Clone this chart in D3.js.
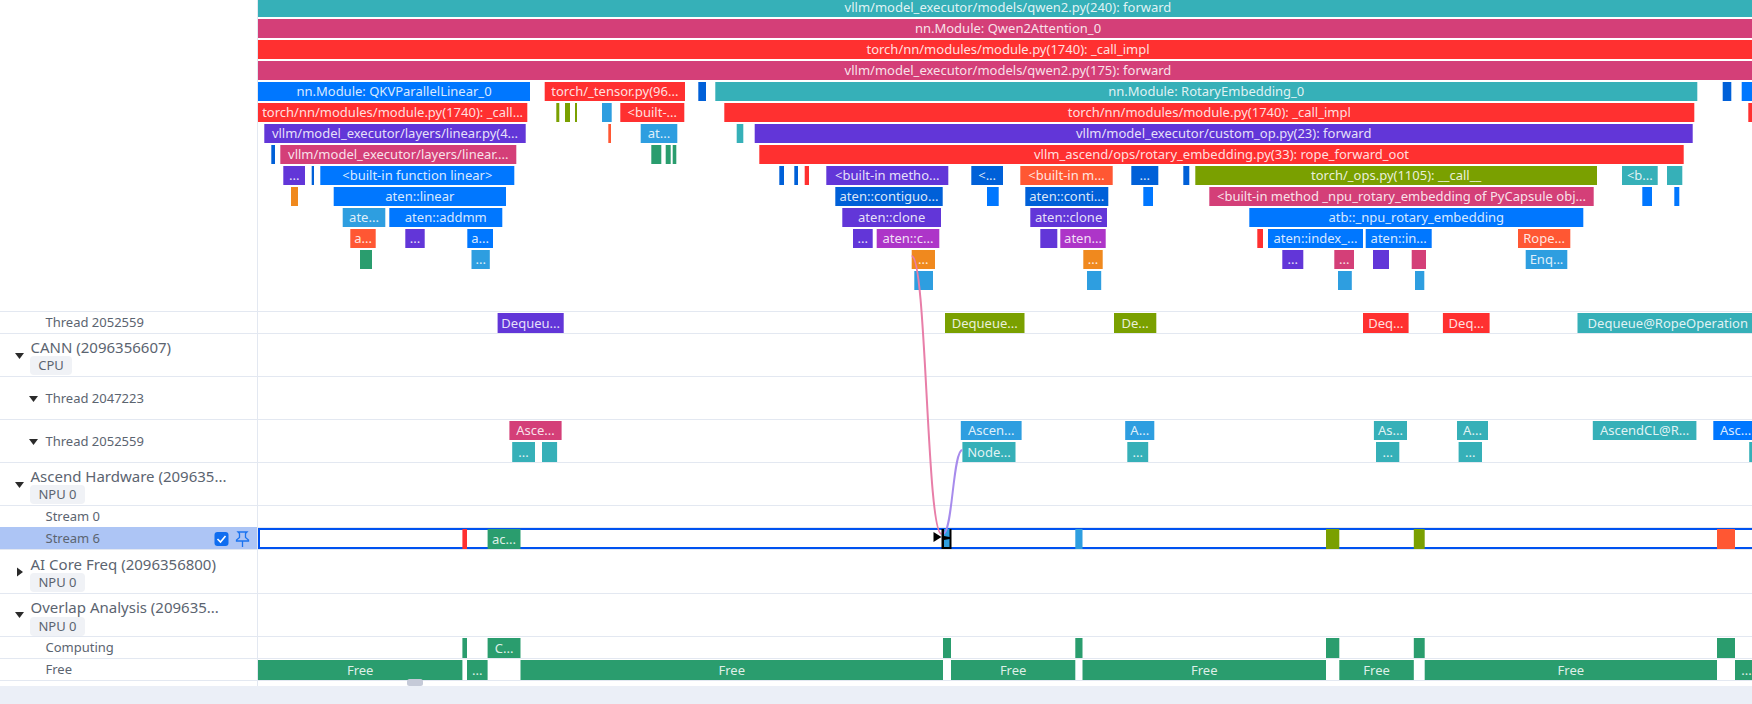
<!DOCTYPE html>
<html>
<head>
<meta charset="utf-8">
<script src="https://cdn.jsdelivr.net/npm/d3@7"></script>
<style>
  html, body { margin: 0; padding: 0; background: #fff; overflow: hidden; }
  svg { display: block; font-family: "Noto Sans", sans-serif; }
  .barText { fill: #fff; fill-opacity: .86; font-size: 13px; text-anchor: middle; }
  .groupText { fill: #5b6470; font-size: 15px; }
  .trackText { fill: #5b6470; font-size: 13px; }
  .tagText { fill: #5b6470; font-size: 13px; text-anchor: middle; }
</style>
</head>
<body>
<script>
// Timeline values: each slice is [start, end, label, category]

// Python flame graph, one array per call depth
var depth0 = [[0, 1500, "vllm/model_executor/models/qwen2.py(240): forward", 3]];
var depth1 = [[0, 1500, "nn.Module: Qwen2Attention_0", 2]];
var depth2 = [[0, 1500, "torch/nn/modules/module.py(1740): _call_impl", 1]];
var depth3 = [[0, 1500, "vllm/model_executor/models/qwen2.py(175): forward", 2]];
var depth4 = [
  [0, 272, "nn.Module: QKVParallelLinear_0", 0], [286.7, 427, "torch/_tensor.py(96...", 1],
  [440.3, 448, "", 5], [457.3, 1439.3, "nn.Module: RotaryEmbedding_0", 3],
  [1464.7, 1473.3, "", 5], [1483.7, 1500, "", 0]
];
var depth5 = [
  [0, 269.3, "torch/nn/modules/module.py(1740): _call...", 1], [298.3, 301.3, "", 6], [307, 312, "", 6],
  [317, 319, "", 6], [344, 353.7, "", 8], [362.3, 426.3, "<built-...", 1],
  [466.3, 1436.3, "torch/nn/modules/module.py(1740): _call_impl", 1], [1490.3, 1500, "", 1]
];
var depth6 = [
  [6.3, 267.7, "vllm/model_executor/layers/linear.py(4...", 4], [350.3, 353, "", 9], [382.7, 419.3, "at...", 8],
  [478.7, 485.3, "", 3], [496.7, 1434.7, "vllm/model_executor/custom_op.py(23): forward", 4]
];
var depth7 = [
  [13.3, 17, "", 5], [22.3, 258.3, "vllm/model_executor/layers/linear....", 2], [393.3, 403.3, "", 7],
  [407.7, 412.7, "", 7], [414.7, 418.3, "", 7],
  [501.3, 1425.7, "vllm_ascend/ops/rotary_embedding.py(33): rope_forward_oot", 1]
];
var depth8 = [
  [25.3, 47, "...", 4], [53.7, 56, "", 5], [62.3, 256.3, "<built-in function linear>", 0],
  [521.3, 526, "", 5], [536.3, 540, "", 5], [546.7, 551, "", 1], [568.3, 690.3, "<built-in metho...", 4],
  [713.3, 745, "<...", 5], [762.3, 854.7, "<built-in m...", 9], [873.3, 900.3, "...", 5], [925.3, 931.3, "", 5],
  [937.3, 1339, "torch/_ops.py(1105): __call__", 6], [1364, 1399.7, "<b...", 3], [1409, 1424.3, "", 3]
];
var depth9 = [
  [33, 40, "", 10], [75.7, 248, "aten::linear", 0], [577.3, 684.7, "aten::contiguo...", 5], [729, 740.7, "", 0],
  [767.3, 850.3, "aten::conti...", 5], [885.3, 895, "", 0],
  [951.3, 1335.7, "<built-in method _npu_rotary_embedding of PyCapsule obj...", 2],
  [1384.3, 1394, "", 0], [1416.3, 1421.3, "", 0]
];
var depth10 = [
  [84.7, 127.3, "ate...", 8], [131.3, 244.3, "aten::addmm", 0], [584.3, 683, "aten::clone", 4],
  [772.3, 849, "aten::clone", 4], [991.3, 1325.3, "atb::_npu_rotary_embedding", 0]
];
var depth11 = [
  [92.3, 117.7, "a...", 9], [147.3, 166.7, "...", 4], [209.3, 235, "a...", 0], [595, 614.7, "...", 4],
  [618.7, 681.3, "aten::c...", 11], [782.3, 799.3, "", 4], [802.3, 847.7, "aten...", 11], [999.3, 1005, "", 1],
  [1010, 1105, "aten::index_...", 0], [1107.7, 1173.7, "aten::in...", 0], [1260, 1312.3, "Rope...", 9]
];
var depth12 = [
  [102, 114, "", 7], [213.5, 231.8, "...", 8], [653.7, 677, "...", 10], [825.3, 844.7, "...", 10],
  [1024.3, 1045.3, "...", 4], [1076.3, 1096, "...", 2], [1115, 1131, "", 4], [1153.7, 1168, "", 2],
  [1267.7, 1309.3, "Enq...", 8]
];
var depth13 = [[656.3, 675, "", 8], [829, 843.2, "", 8], [1080, 1093.8, "", 8], [1157, 1166.3, "", 8]];
var flameDepths = [depth0, depth1, depth2, depth3, depth4, depth5, depth6, depth7, depth8, depth9, depth10, depth11, depth12, depth13];

// Other tracks
var pythonThread = [
  [239.6, 305.7, "Dequeu...", 4], [687, 766.5, "Dequeue...", 6], [856, 898.3, "De...", 6],
  [1105, 1150.6, "Deq...", 1], [1184.9, 1231.6, "Deq...", 1], [1319.5, 1500, "Dequeue@RopeOperation", 3]
];
var cannUpper = [
  [251.4, 303.6, "Asce...", 2], [702.8, 763.6, "Ascen...", 8], [867.2, 896.3, "A...", 8], [1115.9, 1149, "As...", 3],
  [1199, 1230, "A...", 3], [1334.8, 1438.4, "AscendCL@R...", 3], [1455.3, 1500, "Asc...", 0]
];
var cannLower = [
  [254.2, 277, "...", 3], [284, 299.1, "", 3], [704.4, 757.5, "Node...", 3], [869.3, 890.2, "...", 3],
  [1118, 1141.3, "...", 3], [1200.6, 1224, "...", 3], [1491.2, 1500, "", 3]
];
var stream6 = [
  [204.4, 209, "", 1], [229.6, 262.5, "ac...", 7], [685, 693, "", 8], [817.3, 824.5, "", 8],
  [1068, 1081.3, "", 6], [1155.8, 1166.7, "", 6], [1459, 1477, "", 9]
];
var computing = [
  [204.4, 209, "", 7], [229.6, 262.5, "C...", 7], [685, 693, "", 7], [817.3, 824.5, "", 7],
  [1068, 1081.3, "", 7], [1155.8, 1166.7, "", 7], [1459, 1477, "", 7]
];
var free = [
  [0, 204.4, "Free", 7], [209, 229.6, "...", 7], [262.5, 685, "Free", 7], [693, 817.3, "Free", 7],
  [824.5, 1068, "Free", 7], [1081.3, 1155.8, "Free", 7], [1166.7, 1459, "Free", 7], [1477, 1500, "...", 7]
];

// Flow links: [from time, from track, to time, to track]
var flowLinks = [[653.7, "flame", 683.5, "stream6"], [704.4, "cannLower", 685, "stream6"]];

// Left hand panel
var groupLabels = ["CANN (2096356607)", "Ascend Hardware (209635...", "AI Core Freq (2096356800)", "Overlap Analysis (209635..."];
var groupTags = ["CPU", "NPU 0", "NPU 0", "NPU 0"];
var trackLabels = ["Thread 2052559", "Thread 2047223", "Thread 2052559", "Stream 0", "Stream 6", "Computing", "Free"];

// Layout
var svgWidth = 1752;
var svgHeight = 704;
var panelWidth = 257;
var separators = [311, 333, 376, 419, 462, 505, 527, 549, 593, 636, 658, 680];
var groupBaselines = [353, 482, 570, 613];
var tagTops = [356, 485, 573, 617];
var tagWidths = [42, 55, 55, 55];
var groupArrowY = [356, 485, 572, 615];
var trackBaselines = [327, 403, 446, 521, 543, 652, 674];
var trackRects = { pythonThread: [313, 20], cannUpper: [421, 19], cannLower: [442, 20], stream6: [529, 20], computing: [638, 20], free: [660, 20] };
var linkEnds = { flame: 256, cannLower: 450, stream6: 534 };

var palette = ["#0077ff", "#ff3030", "#d43f78", "#36b0b8", "#6236d8", "#0060d8", "#7aa000", "#2a9d6e", "#2e9ee0", "#ff5733", "#f0891e", "#ad35c8"];

var svg = d3.select("body")
  .append("svg")
  .attr("width", svgWidth)
  .attr("height", svgHeight);

// Scales
var xScale = d3.scaleLinear().domain([0, 1500]).range([258, 1758]);
var depthScale = d3.scaleLinear().domain([0, 13]).range([-2, 271]);
var colorScale = d3.scaleOrdinal().domain(d3.range(palette.length)).range(palette);

// Separators and panel edge
svg.selectAll(".separator")
  .data(separators)
  .enter()
  .append("line")
  .attr("x1", 0)
  .attr("x2", svgWidth)
  .attr("y1", d => d + 0.5)
  .attr("y2", d => d + 0.5)
  .attr("stroke", "#e3e8f1");

svg.append("line")
  .attr("x1", panelWidth + 0.5)
  .attr("x2", panelWidth + 0.5)
  .attr("y1", 0)
  .attr("y2", 686)
  .attr("stroke", "#e3e8f1");

// Selected row
svg.append("rect")
  .attr("x", 0)
  .attr("y", 527)
  .attr("width", panelWidth)
  .attr("height", 22)
  .attr("fill", "#adc5f5");

svg.append("rect")
  .attr("x", 259)
  .attr("y", 529)
  .attr("width", 1520)
  .attr("height", 19)
  .attr("fill", "none")
  .attr("stroke", "#0052f0")
  .attr("stroke-width", 2);

function drawSlices(rows, top, height) {
  var g = svg.append("g");
  g.selectAll("rect")
    .data(rows)
    .enter()
    .append("rect")
    .attr("x", d => xScale(d[0]))
    .attr("y", top)
    .attr("width", d => xScale(d[1]) - xScale(d[0]))
    .attr("height", height)
    .attr("fill", d => colorScale(d[3]));

  g.selectAll("text")
    .data(rows.filter(d => d[2] !== ""))
    .enter()
    .append("text")
    .attr("class", "barText")
    .attr("x", d => (xScale(d[0]) + xScale(d[1])) / 2)
    .attr("y", top + height / 2 + 4.5)
    .text(d => d[2]);
}

flameDepths.forEach(function(rows, i) {
  drawSlices(rows, depthScale(i), 19);
});

drawSlices(pythonThread, trackRects.pythonThread[0], trackRects.pythonThread[1]);
drawSlices(cannUpper, trackRects.cannUpper[0], trackRects.cannUpper[1]);
drawSlices(cannLower, trackRects.cannLower[0], trackRects.cannLower[1]);
drawSlices(stream6, trackRects.stream6[0], trackRects.stream6[1]);
drawSlices(computing, trackRects.computing[0], trackRects.computing[1]);
drawSlices(free, trackRects.free[0], trackRects.free[1]);

// Flow arrows
var flowPath = d3.linkHorizontal()
  .source(d => [xScale(d[0]), linkEnds[d[1]]])
  .target(d => [xScale(d[2]), linkEnds[d[3]]]);

svg.selectAll(".flow")
  .data(flowLinks)
  .enter()
  .append("path")
  .attr("class", "flow")
  .attr("d", flowPath)
  .attr("fill", "none")
  .attr("stroke", (d, i) => i === 0 ? "#e87ea8" : "#a78bec")
  .attr("stroke-width", 2);

// Black flow anchors on Stream 6
var anchor = flowLinks[0][2];
var anchorX = xScale(anchor);
svg.append("path")
  .attr("d", `M${anchorX - 8},532 L${anchorX},537 L${anchorX - 8},542 Z`)
  .attr("fill", "#000");
svg.append("path")
  .attr("fill", "#000")
  .attr("fill-rule", "evenodd")
  .attr("d", `M${anchorX},529 h10 v20 h-10 Z M${anchorX + 2.5},529 h5.5 v8 l-5.5,-1 Z M${anchorX + 2.5},540 l5.5,-1 v8 h-5.5 Z`);

// Left panel text
svg.selectAll(".groupText")
  .data(groupLabels)
  .enter()
  .append("text")
  .attr("class", "groupText")
  .attr("x", 30.5)
  .attr("y", (d, i) => groupBaselines[i])
  .text(d => d);

svg.selectAll(".tag")
  .data(groupTags)
  .enter()
  .append("rect")
  .attr("class", "tag")
  .attr("x", 30)
  .attr("y", (d, i) => tagTops[i])
  .attr("width", (d, i) => tagWidths[i])
  .attr("height", 19)
  .attr("rx", 4)
  .attr("fill", "#f0f2f6");

svg.selectAll(".tagText")
  .data(groupTags)
  .enter()
  .append("text")
  .attr("class", "tagText")
  .attr("x", (d, i) => 30 + tagWidths[i] / 2)
  .attr("y", (d, i) => tagTops[i] + 14)
  .text(d => d);

svg.selectAll(".trackText")
  .data(trackLabels)
  .enter()
  .append("text")
  .attr("class", "trackText")
  .attr("x", 45.5)
  .attr("y", (d, i) => trackBaselines[i])
  .text(d => d);

// Expand arrows
groupArrowY.forEach(function(y, i) {
  var d = i === 2 ? `M17,${y - 4.5} L23,${y} L17,${y + 4.5} Z` : `M15,${y - 3} L24,${y - 3} L19.5,${y + 3} Z`;
  svg.append("path").attr("d", d).attr("fill", "#2a2a2a");
});
[399, 442].forEach(function(y) {
  svg.append("path")
    .attr("d", `M29,${y - 3} L38,${y - 3} L33.5,${y + 3} Z`)
    .attr("fill", "#2a2a2a");
});

// Checkbox and pin on the selected row
svg.append("rect")
  .attr("x", 214.5)
  .attr("y", 532)
  .attr("width", 14)
  .attr("height", 14)
  .attr("rx", 3)
  .attr("fill", "#0f6df0");
svg.append("path")
  .attr("d", "M217.5,539 L220.5,542 L225.5,536")
  .attr("fill", "none")
  .attr("stroke", "#fff")
  .attr("stroke-width", 1.6);
svg.append("path")
  .attr("d", "M238,532 h9 l-1.5,1.5 v4 l3,2.5 v1 h-12 v-1 l3,-2.5 v-4 Z M242.5,541 v6")
  .attr("fill", "none")
  .attr("stroke", "#1a73f0")
  .attr("stroke-width", 1.3);

// Bottom bar and scroll handle
svg.append("rect")
  .attr("x", 0)
  .attr("y", 686)
  .attr("width", svgWidth)
  .attr("height", 18)
  .attr("fill", "#ebeff7");
svg.append("rect")
  .attr("x", 407)
  .attr("y", 679)
  .attr("width", 16)
  .attr("height", 7)
  .attr("rx", 2.5)
  .attr("fill", "#c5cad8");
</script>
</body>
</html>
